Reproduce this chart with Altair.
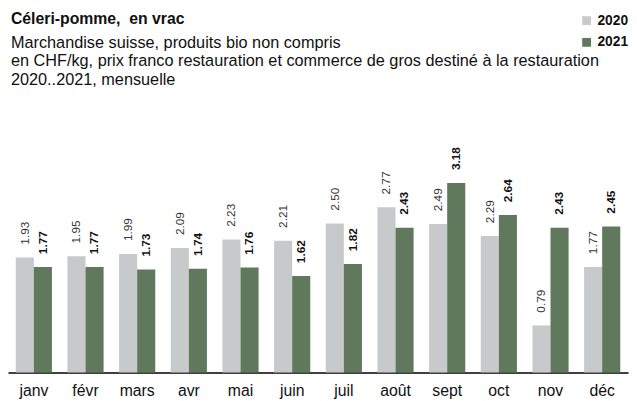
import altair as alt
import pandas as pd

months = ["janv", "févr", "mars", "avr", "mai", "juin", "juil", "août", "sept", "oct", "nov", "déc"]
years = ["2020", "2021"]
v2020 = [1.93, 1.95, 1.99, 2.09, 2.23, 2.21, 2.50, 2.77, 2.49, 2.29, 0.79, 1.77]
v2021 = [1.77, 1.77, 1.73, 1.74, 1.76, 1.62, 1.82, 2.43, 3.18, 2.64, 2.43, 2.45]
colors = ["#C8C9CB", "#60785B"]

rows = []
for i, m in enumerate(months):
    rows.append({"month": m, "year": years[0], "value": v2020[i]})
    rows.append({"month": m, "year": years[1], "value": v2021[i]})
df = pd.DataFrame(rows)

FONT = "Liberation Sans"

x = alt.X("month:N", sort=months, title=None,
          scale=alt.Scale(paddingInner=0.3, paddingOuter=0.15),
          axis=alt.Axis(labelAngle=0, labelFontSize=16, labelColor="#111111",
                        labelPadding=10, ticks=False, domainColor="#404040",
                        domainWidth=2, labelFont=FONT))
xo = alt.XOffset("year:N", sort=years)
y = alt.Y("value:Q", scale=alt.Scale(domain=[0, 4.545]), axis=None)

base = alt.Chart(df).encode(x=x, xOffset=xo, y=y)

bars = base.mark_bar().encode(
    color=alt.Color("year:N", sort=years,
                    scale=alt.Scale(domain=years, range=colors),
                    legend=alt.Legend(title=None, orient="none", legendX=580, legendY=-89,
                                      symbolType="square", symbolSize=80,
                                      labelFontSize=14, labelFontWeight="bold",
                                      labelColor="#111111", rowPadding=8,
                                      labelFont=FONT, symbolStrokeWidth=0))
)

lab2020 = base.transform_filter(alt.datum.year == "2020").mark_text(
    angle=270, align="left", baseline="middle", dx=13, fontSize=12,
    color="#333333", font=FONT
).encode(text=alt.Text("value:Q", format=".2f"))

lab2021 = base.transform_filter(alt.datum.year == "2021").mark_text(
    angle=270, align="left", baseline="middle", dx=13, fontSize=12,
    fontWeight="bold", color="#111111", font=FONT
).encode(text=alt.Text("value:Q", format=".2f"))

chart = alt.layer(bars, lab2020, lab2021).properties(
    width=629, height=275,
    padding={"left": 0, "right": 0, "top": 0, "bottom": 0},
    title=alt.TitleParams(
        text="Céleri-pomme,\u00a0 en vrac",
        subtitle=["Marchandise suisse, produits bio non compris",
                  "en CHF/kg, prix franco restauration et commerce de gros destiné à la restauration",
                  "2020..2021, mensuelle"],
        anchor="start", frame="group", dx=3, offset=-76,
        fontSize=16, fontWeight="bold", color="#111111", font=FONT,
        subtitleFontSize=16.5, subtitleColor="#111111", subtitleFont=FONT,
        subtitleLineHeight=19, subtitlePadding=8,
    ),
).configure(background="white").configure_view(stroke=None)

chart.save("out.html", embed_options={"renderer": "svg", "actions": False})
